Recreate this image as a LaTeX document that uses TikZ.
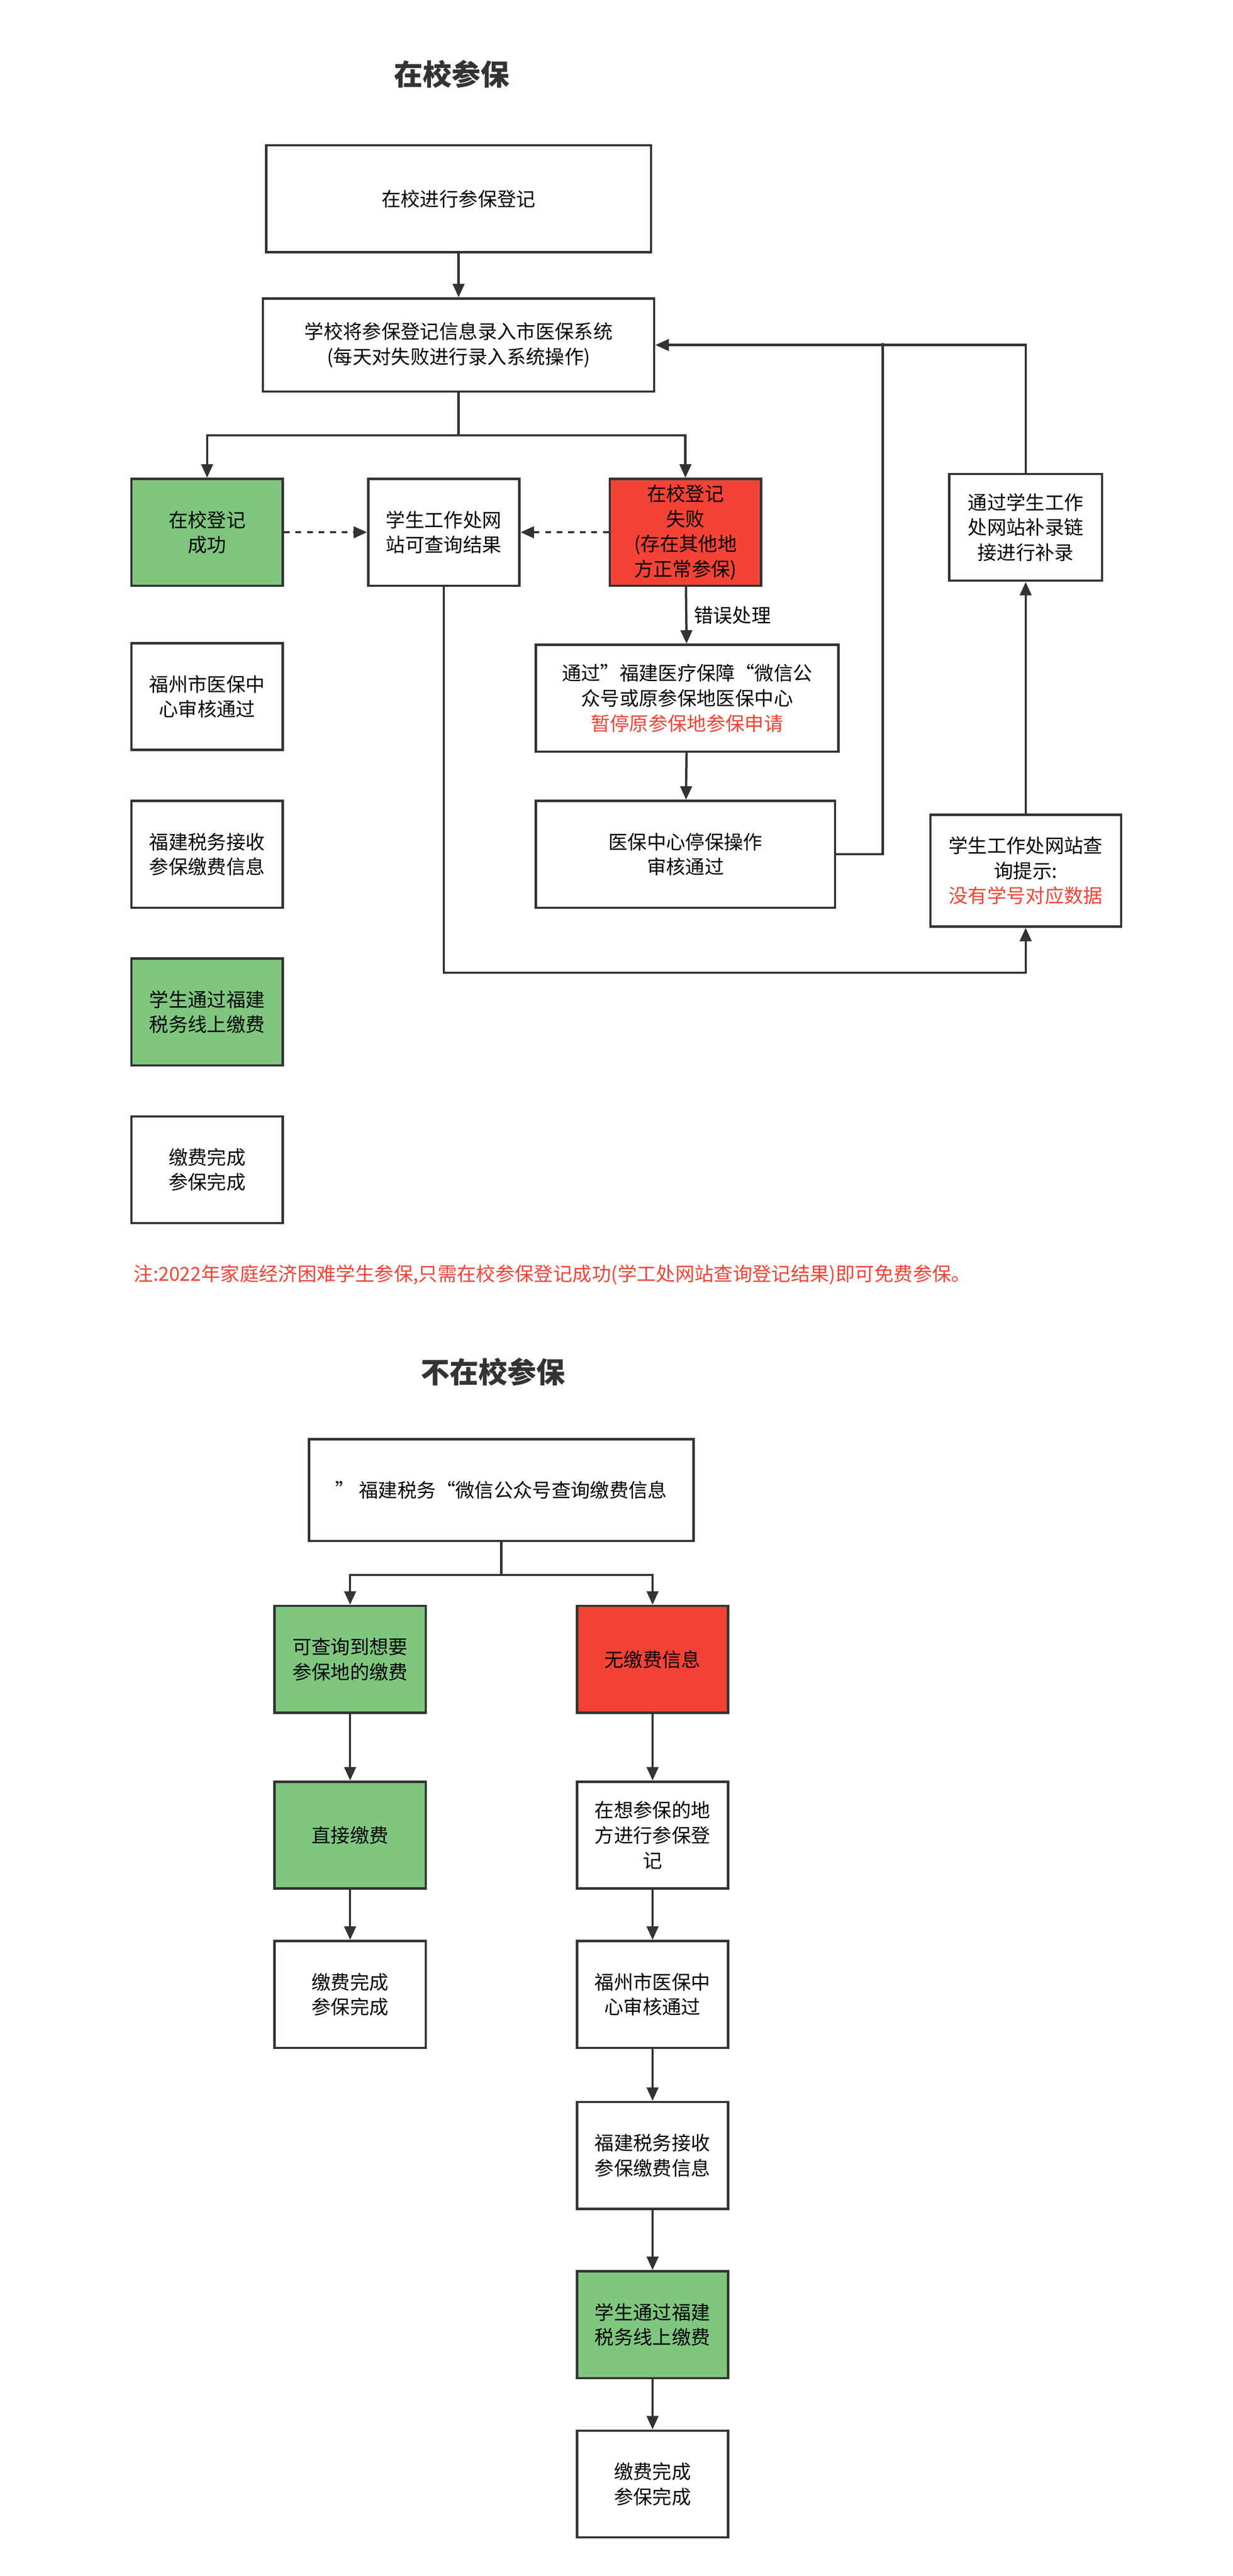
\documentclass[tikz,border=0pt]{standalone}
\usepackage{fontspec}
\setmainfont{Noto Sans CJK SC}
\usetikzlibrary{positioning,arrows.meta}
\definecolor{okgreen}{HTML}{7FC67F}
\definecolor{badred}{HTML}{F44336}
\definecolor{linegray}{HTML}{333333}
\begin{document}
\begin{tikzpicture}[x=0.03cm,y=-0.03cm,
    box/.style={draw=linegray,line width=1.2pt,fill=white,align=center,inner sep=2pt,
        font=\fontsize{10}{13}\selectfont,minimum height=1.95cm},
    sbox/.style={box,minimum width=2.76cm,text width=2.3cm},
    okbox/.style={sbox,fill=okgreen},
    badbox/.style={sbox,fill=badred},
    flow/.style={draw=linegray,line width=1.2pt,-{Triangle[length=7pt,width=6pt]}},
    title/.style={font=\fontsize{15}{18}\selectfont\bfseries,text=linegray}]
    \useasboundingbox (0,0) rectangle (750,1568);
    % in school
    \node[title] (t1) at (275,45) {在校参保};
    \node[box,minimum width=7.02cm] (reg) at (279,121) {在校进行参保登记};
    \node[box,minimum width=7.14cm,minimum height=1.7cm] (entry) at (279,210) {学校将参保登记信息录入市医保系统\\(每天对失败进行录入系统操作)};
    \node[okbox] (ok) at (126,324) {在校登记\\成功};
    \node[sbox] (web) at (270,324) {学生工作处网\\站可查询结果};
    \node[badbox] (fail) at (417,324) {在校登记\\失败\\(存在其他地\\方正常参保)};
    \node[box,minimum width=5.52cm,text width=5.3cm] (stop) at (418,425) {通过”福建医疗保障“微信公\\众号或原参保地医保中心\\\textcolor{badred}{暂停原参保地参保申请}};
    \node[box,minimum width=5.46cm] (audit) at (417,520) {医保中心停保操作\\审核通过};
    \node[box,minimum width=3.48cm,minimum height=2.04cm,text width=3.3cm] (hint) at (624,530) {学生工作处网站查\\询提示:\\\textcolor{badred}{没有学号对应数据}};
    \node[sbox,minimum width=2.79cm] (fix) at (624,321) {通过学生工作\\处网站补录链\\接进行补录};
    \node[sbox] (fz) at (126,424) {福州市医保中\\心审核通过};
    \node[sbox] (tax) at (126,520) {福建税务接收\\参保缴费信息};
    \node[okbox] (pay) at (126,616) {学生通过福建\\税务线上缴费};
    \node[sbox] (done) at (126,712) {缴费完成\\参保完成};
    \node[text=badred,font=\fontsize{10}{12}\selectfont] (note) at (336,776) {注:2022年家庭经济困难学生参保,只需在校参保登记成功(学工处网站查询登记结果)即可免费参保。};
    \coordinate (join) at (537,209);
    \draw[flow] (reg) -- (entry);
    \draw[flow] (entry.south) -- ++(0,26) -| (ok.north);
    \draw[flow] (entry.south) -- ++(0,26) -| (fail.north);
    \draw[flow,dashed] (ok) -- (web);
    \draw[flow,dashed] (fail) -- (web);
    \draw[flow] (fail) -- node[right,font=\fontsize{10}{12}\selectfont] {错误处理} (stop);
    \draw[flow] (stop) -- (audit);
    \draw[draw=linegray,line width=1.2pt] (audit.east) -| (join);
    \draw[flow] (fix.north) |- (entry.east);
    \draw[flow] (web.south) |- (370,592) -| (hint.south);
    \draw[flow] (hint) -- (fix);
    % not in school
    \node[title] (t2) at (300,835) {不在校参保};
    \node[box,minimum width=7.02cm,minimum height=1.86cm] (query) at (305,907) {” 福建税务“微信公众号查询缴费信息};
    \node[okbox] (found) at (213,1010) {可查询到想要\\参保地的缴费};
    \node[badbox] (none) at (397,1010) {无缴费信息};
    \node[okbox] (direct) at (213,1117) {直接缴费};
    \node[sbox] (done2) at (213,1214) {缴费完成\\参保完成};
    \node[sbox] (local) at (397,1117) {在想参保的地\\方进行参保登\\记};
    \node[sbox] (fz2) at (397,1214) {福州市医保中\\心审核通过};
    \node[sbox] (tax2) at (397,1312) {福建税务接收\\参保缴费信息};
    \node[okbox] (pay2) at (397,1415) {学生通过福建\\税务线上缴费};
    \node[sbox] (done3) at (397,1512) {缴费完成\\参保完成};
    \draw[flow] (query.south) -- ++(0,20) -| (found.north);
    \draw[flow] (query.south) -- ++(0,20) -| (none.north);
    \draw[flow] (found) -- (direct);
    \draw[flow] (direct) -- (done2);
    \draw[flow] (none) -- (local);
    \draw[flow] (local) -- (fz2);
    \draw[flow] (fz2) -- (tax2);
    \draw[flow] (tax2) -- (pay2);
    \draw[flow] (pay2) -- (done3);
\end{tikzpicture}
\end{document}
